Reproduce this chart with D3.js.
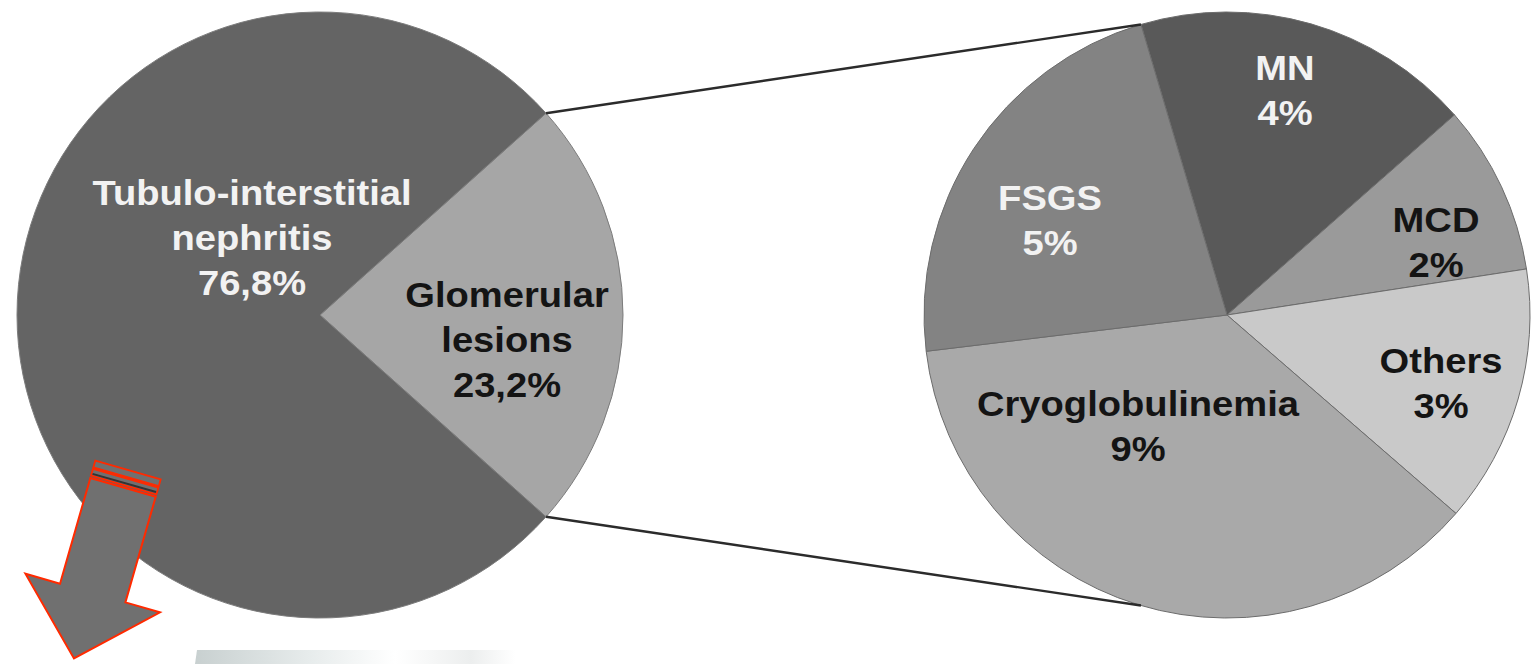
<!DOCTYPE html>
<html>
<head>
<meta charset="utf-8">
<script src="https://cdn.jsdelivr.net/npm/d3@7"></script>
<style>
  html, body { margin: 0; padding: 0; background: #ffffff; }
  svg { display: block; }
  text { font-family: "Liberation Sans", Arial, Helvetica, sans-serif; font-weight: bold; }
</style>
</head>
<body>
<script>
// Main pie: share of lesion types
const mainCategories = ["Glomerular lesions", "Tubulo-interstitial nephritis"];
const mainLines = [["Glomerular", "lesions"], ["Tubulo-interstitial", "nephritis"]];
const mainValues = [23.2, 76.8];

// Secondary pie: breakdown of glomerular lesions (% of all biopsies)
const subCategories = ["MN", "MCD", "Others", "Cryoglobulinemia", "FSGS"];
const subValues = [4.2, 2.1, 3.2, 8.52, 5.18];

const W = 1533, H = 664;
const svg = d3.select("body").append("svg").attr("width", W).attr("height", H);

const R = 303;
const mainC = [320, 315];
const subC = [1227, 315];

const mainColor = d3.scaleOrdinal().domain(mainCategories).range(["#a6a6a6", "#646464"]);
const mainText = d3.scaleOrdinal().domain(mainCategories).range(["#141414", "#f2f2f2"]);
const subColor = d3.scaleOrdinal().domain(subCategories)
  .range(["#595959", "#9a9a9a", "#c9c9c9", "#a9a9a9", "#838383"]);
const subText = d3.scaleOrdinal().domain(subCategories)
  .range(["#f2f2f2", "#141414", "#141414", "#141414", "#f2f2f2"]);

const fmt1 = v => d3.format(".1f")(v).replace(".", ",") + "%";
const fmt0 = v => d3.format(".0f")(v) + "%";

// Main pie: split-off slice centred on the right (3 o'clock)
const mainTotal = d3.sum(mainValues);
const mainStart = Math.PI / 2 - (mainValues[0] / mainTotal) * Math.PI;
const mainPie = d3.pie().sort(null).value(d => d)
  .startAngle(mainStart).endAngle(mainStart + 2 * Math.PI);
const mainArcs = mainPie(mainValues);

// Secondary pie begins at the upper connector point
const connAngle = 16.5 * Math.PI / 180;
const subStart = -connAngle;
const subPie = d3.pie().sort(null).value(d => d)
  .startAngle(subStart).endAngle(subStart + 2 * Math.PI);
const subArcs = subPie(subValues);

const arc = d3.arc().innerRadius(0).outerRadius(R);
const onCircle = (c, a) => [c[0] + R * Math.sin(a), c[1] - R * Math.cos(a)];

// faint swoosh along the bottom edge
const defs = svg.append("defs");
const g1 = defs.append("linearGradient").attr("id", "swoosh").attr("x1", 0).attr("x2", 1);
[[0, "#c8d0d0"], [0.25, "#e6ebeb"], [0.45, "#ffffff"], [0.62, "#eceeee"], [0.72, "#ffffff"], [1, "#ffffff"]]
  .forEach(s => g1.append("stop").attr("offset", s[0]).attr("stop-color", s[1]));
svg.append("path")
  .attr("d", "M197,650 L640,650 L640,664 L195,664 Z")
  .attr("fill", "url(#swoosh)");

// main pie
const gMain = svg.append("g").attr("transform", `translate(${mainC})`);
gMain.selectAll("path").data(mainArcs).join("path")
  .attr("d", arc)
  .attr("fill", (d, i) => mainColor(mainCategories[i]))
  .attr("stroke", "#7c7c7c").attr("stroke-width", 1);

// secondary pie
const gSub = svg.append("g").attr("transform", `translate(${subC})`);
gSub.selectAll("path").data(subArcs).join("path")
  .attr("d", arc)
  .attr("fill", (d, i) => subColor(subCategories[i]))
  .attr("stroke", "#6c6c6c").attr("stroke-width", 1);

// connector lines from the split-off slice to the secondary pie
const gl = mainArcs[0];
const conn = [
  [onCircle(mainC, gl.startAngle), onCircle(subC, -connAngle)],
  [onCircle(mainC, gl.endAngle), onCircle(subC, Math.PI + connAngle)]
];
svg.append("g").selectAll("line").data(conn).join("line")
  .attr("x1", d => d[0][0]).attr("y1", d => d[0][1])
  .attr("x2", d => d[1][0]).attr("y2", d => d[1][1])
  .attr("stroke", "#2b2b2b").attr("stroke-width", 2.4);

// label anchors (block centre x, first baseline y) relative to each pie centre
const mainLabelAt = { "Glomerular lesions": [187, -8], "Tubulo-interstitial nephritis": [-68, -110] };
const subLabelAt = {
  "MN": [58, -235], "MCD": [209, -83], "Others": [214, 58],
  "Cryoglobulinemia": [-89, 101], "FSGS": [-177, -105]
};
const FS = 35, SX = 1.09, LH = 45;

function drawLabel(parent, at, lines, color) {
  const t = parent.append("text")
    .attr("transform", `translate(${at[0]},${at[1]}) scale(${SX},1)`)
    .attr("text-anchor", "middle")
    .attr("font-size", FS)
    .attr("fill", color);
  lines.forEach((s, i) => t.append("tspan").attr("x", 0).attr("y", i * LH).text(s));
}

mainCategories.forEach((c, i) =>
  drawLabel(gMain, mainLabelAt[c], mainLines[i].concat([fmt1(mainValues[i])]), mainText(c)));
subCategories.forEach((c, i) =>
  drawLabel(gSub, subLabelAt[c], [c, fmt0(subValues[i])], subText(c)));

// pointer arrow in the lower left
const gA = svg.append("g").attr("transform", "translate(128,470) rotate(16)");
const red = "#ff2a00";
gA.append("rect").attr("x", -34).attr("y", 0).attr("width", 68).attr("height", 7)
  .attr("fill", "#707070").attr("stroke", red).attr("stroke-width", 1.8);
gA.append("rect").attr("x", -34).attr("y", 8.5).attr("width", 68).attr("height", 7)
  .attr("fill", "#707070").attr("stroke", red).attr("stroke-width", 1.8);
gA.append("line").attr("x1", -33).attr("x2", 33).attr("y1", 13.5).attr("y2", 13.5)
  .attr("stroke", "#333").attr("stroke-width", 2);
gA.append("path")
  .attr("d", "M-34,18 L34,18 L34,128 L70,128 L0,196 L-70,128 L-34,128 Z")
  .attr("fill", "#707070").attr("stroke", red).attr("stroke-width", 2).attr("stroke-linejoin", "miter");
</script>
</body>
</html>
